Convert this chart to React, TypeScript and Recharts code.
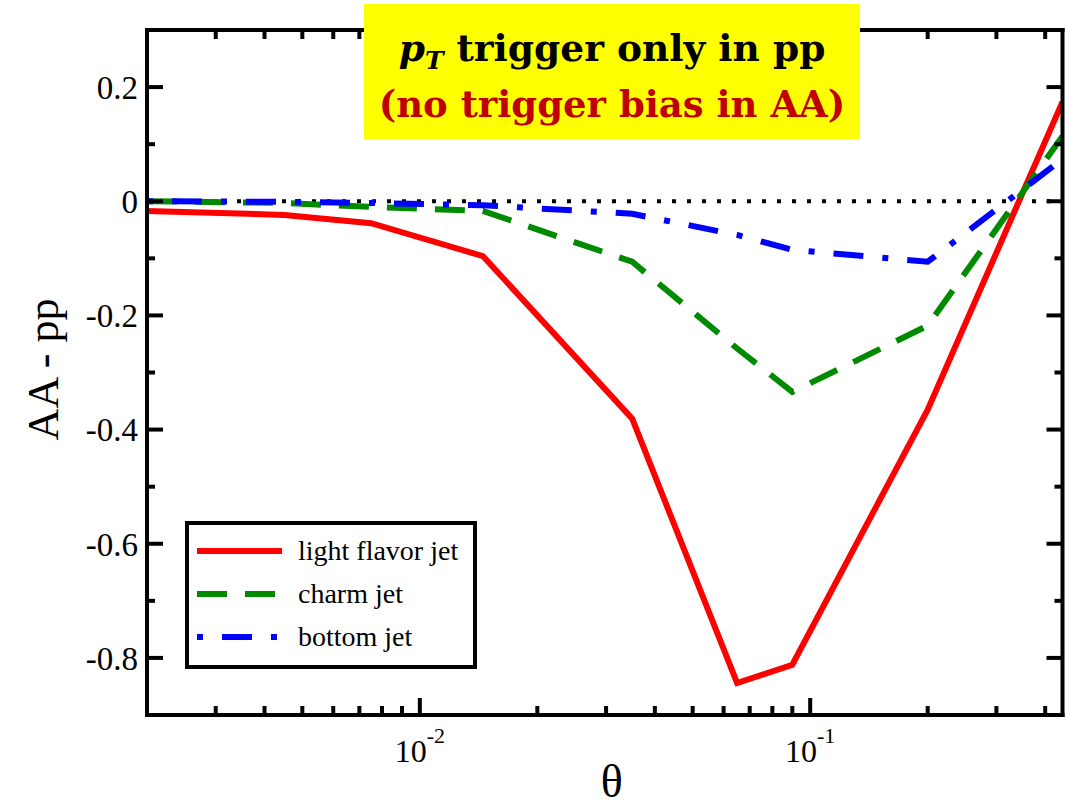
import React from 'react';
import { LineChart, Line, XAxis, YAxis, ReferenceLine, Legend, Label } from 'recharts';

// ---------- data ----------
const thetaValues = [0.002, 0.0045, 0.0075, 0.0145, 0.035, 0.065, 0.09, 0.2, 0.443];
const lightFlavorJet = [-0.017, -0.024, -0.0385, -0.096, -0.381, -0.844, -0.812, -0.365, 0.174];
const charmJet = [0.0, -0.003, -0.01, -0.017, -0.106, -0.258, -0.334, -0.218, 0.114];
const bottomJet = [0.0, -0.001, -0.003, -0.007, -0.022, -0.059, -0.085, -0.106, 0.074];

const seriesKeys = ['light', 'charm', 'bottom'];
const seriesNames = ['light flavor jet', 'charm jet', 'bottom jet'];

const xDomain = [0.002, 0.443];
const xTicks = [
  0.003, 0.004, 0.005, 0.006, 0.007, 0.008, 0.009, 0.01,
  0.02, 0.03, 0.04, 0.05, 0.06, 0.07, 0.08, 0.09, 0.1,
  0.2, 0.3, 0.4,
];
const xMajorTicks = [0.01, 0.1];
const xMajorExponents = ['-2', '-1'];

const yDomain = [-0.9, 0.3];
const yTicks = [-0.8, -0.7, -0.6, -0.5, -0.4, -0.3, -0.2, -0.1, 0, 0.1, 0.2];
const yLabeledTicks = [-0.8, -0.6, -0.4, -0.2, 0, 0.2];
const yTickLabels = ['-0.8', '-0.6', '-0.4', '-0.2', '0', '0.2'];

const titleLine1 = ' trigger only in pp';
const titleLine2 = '(no trigger bias in AA)';
const xAxisTitle = 'θ';
const yAxisTitle = 'AA - pp';

// ---------- styles ----------
const seriesColors = ['#ff0000', '#008a00', '#0000ff'];
const seriesDashes = ['', '30 18', '6 19 30 19'];
const SERIF = 'Liberation Serif, Times New Roman, Times, serif';
const TITLE_FONT = 'DejaVu Serif, Liberation Serif, serif';
const serifStyle = { fontFamily: SERIF };

const data = thetaValues.map((t, i) => ({
  theta: t,
  light: lightFlavorJet[i],
  charm: charmJet[i],
  bottom: bottomJet[i],
}));

const near = (a: number, b: number) => Math.abs(a - b) < 1e-9;

const BottomTick = (props: any) => {
  const { x, y, payload } = props;
  const idx = xMajorTicks.findIndex((m) => near(m, payload.value));
  const major = idx >= 0;
  return (
    <g>
      <line x1={x} x2={x} y1={y} y2={y - (major ? 17 : 9)} stroke="#000" strokeWidth={4} />
      {major && (
        <text x={x} y={y + 47} textAnchor="middle" style={serifStyle} fontSize={32} fill="#000">
          10
          <tspan fontSize={22} dy={-19}>{xMajorExponents[idx]}</tspan>
        </text>
      )}
    </g>
  );
};

const TopTick = (props: any) => {
  const { x, y, payload } = props;
  const major = xMajorTicks.some((m) => near(m, payload.value));
  return <line x1={x} x2={x} y1={y} y2={y + (major ? 17 : 9)} stroke="#000" strokeWidth={4} />;
};

const LeftTick = (props: any) => {
  const { x, y, payload } = props;
  const idx = yLabeledTicks.findIndex((m) => near(m, payload.value));
  const major = idx >= 0;
  return (
    <g>
      <line x1={x} x2={x + (major ? 16 : 8)} y1={y} y2={y} stroke="#000" strokeWidth={4} />
      {major && (
        <text x={x - 9} y={y} dy="0.36em" textAnchor="end" style={serifStyle} fontSize={33} fill="#000">
          {yTickLabels[idx]}
        </text>
      )}
    </g>
  );
};

const RightTick = (props: any) => {
  const { x, y, payload } = props;
  const major = yLabeledTicks.some((m) => near(m, payload.value));
  return <line x1={x} x2={x - (major ? 16 : 8)} y1={y} y2={y} stroke="#000" strokeWidth={4} />;
};

const XTitle = (props: any) => {
  const vb = props.viewBox || {};
  return (
    <text x={vb.x + vb.width / 2 + 7} y={vb.y + 82} textAnchor="middle" style={serifStyle} fontSize={46} fill="#000">
      {xAxisTitle}
    </text>
  );
};

const YTitle = (props: any) => {
  const vb = props.viewBox || {};
  const cx = vb.x - 44;
  const cy = vb.y + vb.height / 2 - 3;
  return (
    <text
      x={cx}
      y={cy}
      transform={`rotate(-90, ${cx}, ${cy})`}
      textAnchor="middle"
      dominantBaseline="central"
      style={serifStyle}
      fontSize={44}
      fill="#000"
    >
      {yAxisTitle}
    </text>
  );
};

const LegendBox = () => (
  <svg width={292} height={148} style={{ display: 'block' }}>
    <rect x={2} y={2} width={288} height={144} fill="#fff" stroke="#000" strokeWidth={4} />
    {seriesNames.map((name, i) => {
      const cy = 30 + i * 43;
      return (
        <g key={name}>
          <line
            x1={12}
            x2={97}
            y1={cy}
            y2={cy}
            stroke={seriesColors[i]}
            strokeWidth={6}
            strokeDasharray={seriesDashes[i] || undefined}
          />
          <text x={113} y={cy} dy="0.33em" style={serifStyle} fontSize={28} fill="#000">
            {name}
          </text>
        </g>
      );
    })}
  </svg>
);

const axisLineStyle = { stroke: '#000', strokeWidth: 4, strokeLinecap: 'square' as const };

export default function App() {
  return (
    <div style={{ position: 'absolute', left: 0, top: 0, width: 1066, height: 808, background: '#fff', overflow: 'hidden' }}>
      <LineChart
        width={1066}
        height={808}
        data={data}
        margin={{ top: 29, right: 2.5, bottom: 33, left: 87 }}
      >
        <XAxis
          xAxisId="bottom"
          dataKey="theta"
          type="number"
          scale="log"
          domain={xDomain}
          allowDataOverflow
          ticks={xTicks}
          interval={0}
          tickSize={0}
          tickMargin={0}
          tickLine={false}
          axisLine={axisLineStyle}
          tick={<BottomTick />}
          height={60}
        >
          <Label content={<XTitle />} />
        </XAxis>
        <XAxis
          xAxisId="top"
          orientation="top"
          dataKey="theta"
          type="number"
          scale="log"
          domain={xDomain}
          allowDataOverflow
          ticks={xTicks}
          interval={0}
          tickSize={0}
          tickMargin={0}
          tickLine={false}
          axisLine={axisLineStyle}
          tick={<TopTick />}
          height={1}
        />
        <YAxis
          yAxisId="left"
          type="number"
          domain={yDomain}
          allowDataOverflow
          ticks={yTicks}
          interval={0}
          tickSize={0}
          tickMargin={0}
          tickLine={false}
          axisLine={axisLineStyle}
          tick={<LeftTick />}
          width={60}
        >
          <Label content={<YTitle />} />
        </YAxis>
        <YAxis
          yAxisId="right"
          orientation="right"
          type="number"
          domain={yDomain}
          allowDataOverflow
          ticks={yTicks}
          interval={0}
          tickSize={0}
          tickMargin={0}
          tickLine={false}
          axisLine={axisLineStyle}
          tick={<RightTick />}
          width={1}
        />
        <ReferenceLine
          xAxisId="bottom"
          yAxisId="left"
          y={0}
          stroke="#000"
          strokeWidth={4}
          strokeDasharray="4 11"
        />
        {seriesKeys.map((k, i) => (
          <Line
            key={k}
            xAxisId="bottom"
            yAxisId="left"
            type="linear"
            dataKey={k}
            name={seriesNames[i]}
            stroke={seriesColors[i]}
            strokeWidth={6}
            strokeDasharray={seriesDashes[i] || undefined}
            dot={false}
            activeDot={false}
            isAnimationActive={false}
          />
        ))}
        <Legend
          layout="horizontal"
          verticalAlign="middle"
          align="center"
          content={<LegendBox />}
          wrapperStyle={{ left: 185, top: 521, width: 292, height: 148 }}
        />
      </LineChart>
      <div
        style={{
          position: 'absolute',
          left: 364,
          top: 4,
          width: 496,
          height: 135,
          background: '#ffff00',
        }}
      >
        <svg width={496} height={135} style={{ display: 'block' }}>
          <text x={248} y={57} textAnchor="middle" style={{ fontFamily: TITLE_FONT }} fontWeight="bold" fontSize={37.5} fill="#000">
            <tspan fontStyle="italic">p</tspan>
            <tspan fontStyle="italic" fontSize={25} dy={8}>T</tspan>
            <tspan dy={-8}>{titleLine1}</tspan>
          </text>
          <text x={248} y={113} textAnchor="middle" style={{ fontFamily: TITLE_FONT }} fontWeight="bold" fontSize={37} fill="#c00000">
            {titleLine2}
          </text>
        </svg>
      </div>
    </div>
  );
}
